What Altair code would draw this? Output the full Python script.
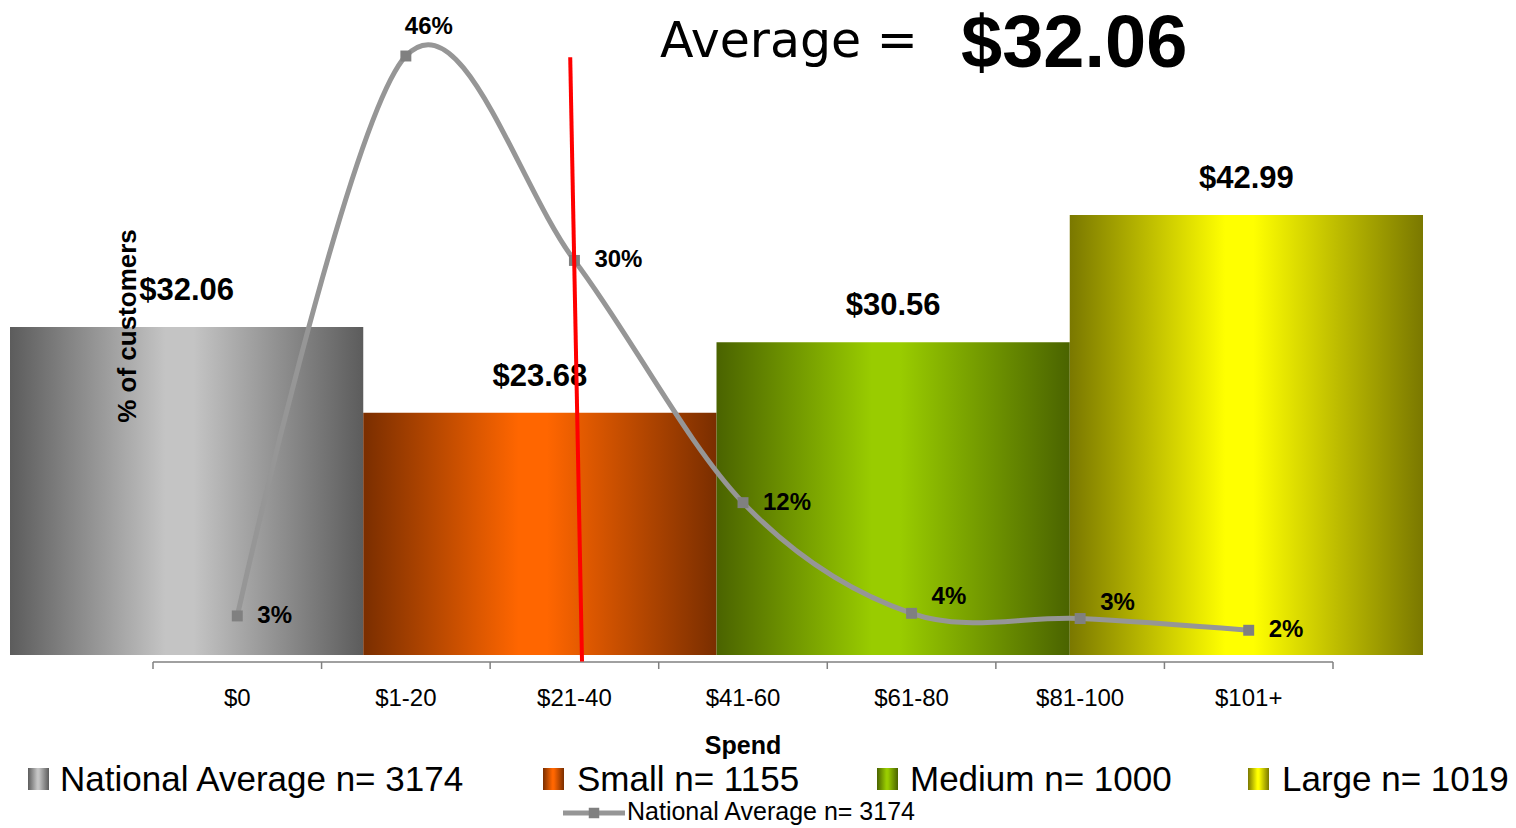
import altair as alt
import pandas as pd

# ---------------- data ----------------
segments = ["National Average n= 3174", "Small n= 1155", "Medium n= 1000", "Large n= 1019"]
avg_spend = [32.06, 23.68, 30.56, 42.99]
spend_cats = ["$0", "$1-20", "$21-40", "$41-60", "$61-80", "$81-100", "$101+"]
pct_customers = [3.0, 46.0, 30.3, 11.7, 3.2, 2.8, 1.9]
pct_labels = ["3%", "46%", "30%", "12%", "4%", "3%", "2%"]
average_value = 32.06
avg_marker_x = [1.975, 2.045]   # red marker, in spend-category units (top, bottom)
avg_marker_y = [45.9, -0.5]     # red marker, in % units (top, bottom)

# ---------------- styles / layout ----------------
gradients = [("#5c5c5c", "#c4c4c4"), ("#7a2e00", "#ff6600"),
             ("#4a6300", "#99cc00"), ("#7a7800", "#ffff00")]
W, H = 1413, 655
FONT = "Liberation Sans"

step = 1180 / len(spend_cats)
cat_x = alt.Scale(domain=[-0.5 - 143 / step, len(spend_cats) - 0.5 + 90 / step], nice=False, zero=False)
pct_y = alt.Scale(domain=[0, 50.3], nice=False, zero=True)
bar_x = alt.Scale(domain=segments, paddingInner=0, paddingOuter=0)
bar_y = alt.Scale(domain=[0, 64], nice=False, zero=True)


def grad(dark, light):
    return alt.Gradient(
        gradient="linear",
        stops=[alt.GradientStop(color=dark, offset=0),
               alt.GradientStop(color=light, offset=0.44),
               alt.GradientStop(color=light, offset=0.52),
               alt.GradientStop(color=dark, offset=1)],
        x1=0, x2=1, y1=0, y2=0)


bar_df = pd.DataFrame({"segment": segments, "spend": avg_spend, "i": list(range(len(segments)))})
line_df = pd.DataFrame({"idx": list(range(len(spend_cats))), "cat": spend_cats,
                        "pct": pct_customers, "label": pct_labels})

layers = []

# bars
for i, (dark, light) in enumerate(gradients):
    layers.append(
        alt.Chart(bar_df).transform_filter(alt.datum.i == i)
        .mark_bar(color=grad(dark, light))
        .encode(x=alt.X("segment:N", scale=bar_x, axis=None),
                y=alt.Y("spend:Q", scale=bar_y, axis=None))
    )

# bar value labels
layers.append(
    alt.Chart(bar_df).transform_calculate(lab="'$' + format(datum.spend, '.2f')")
    .mark_text(font=FONT, fontSize=31, fontWeight="bold", dy=-36, baseline="middle", color="black")
    .encode(x=alt.X("segment:N", scale=bar_x, axis=None),
            y=alt.Y("spend:Q", scale=bar_y, axis=None),
            text="lab:N")
)

# y title
layers.append(
    alt.Chart(pd.DataFrame({"t": ["% of customers"]}))
    .mark_text(font=FONT, fontSize=26, fontWeight="bold", angle=270, align="center", baseline="middle")
    .encode(x=alt.value(118), y=alt.value(326), text="t:N")
)

# axis (spend categories)
n = len(spend_cats)
layers.append(
    alt.Chart(pd.DataFrame({"a": [-0.5], "b": [n - 0.5]}))
    .mark_rule(color="#808080", strokeWidth=1.5)
    .encode(x=alt.X("a:Q", scale=cat_x, axis=None), x2="b:Q", y=alt.value(662))
)
layers.append(
    alt.Chart(pd.DataFrame({"e": [i - 0.5 for i in range(n + 1)]}))
    .mark_rule(color="#808080", strokeWidth=1.5)
    .encode(x=alt.X("e:Q", scale=cat_x, axis=None), y=alt.value(662), y2=alt.value(669))
)
layers.append(
    alt.Chart(line_df)
    .mark_text(font=FONT, fontSize=24, baseline="middle", align="center", color="black")
    .encode(x=alt.X("idx:Q", scale=cat_x, axis=None), y=alt.value(699), text="cat:N")
)
layers.append(
    alt.Chart(pd.DataFrame({"m": [(n - 1) / 2], "t": ["Spend"]}))
    .mark_text(font=FONT, fontSize=25, fontWeight="bold", baseline="middle", align="center")
    .encode(x=alt.X("m:Q", scale=cat_x, axis=None), y=alt.value(746), text="t:N")
)

# line + markers
layers.append(
    alt.Chart(line_df).mark_line(interpolate="cardinal", color="#969696", strokeWidth=5)
    .encode(x=alt.X("idx:Q", scale=cat_x, axis=None), y=alt.Y("pct:Q", scale=pct_y, axis=None))
)
layers.append(
    alt.Chart(line_df).mark_square(size=120, color="#808080", opacity=1)
    .encode(x=alt.X("idx:Q", scale=cat_x, axis=None), y=alt.Y("pct:Q", scale=pct_y, axis=None))
)

# percent labels
label_groups = [([0, 2, 3, 6], dict(dx=20, dy=0, align="left")),
                ([4, 5], dict(dx=20, dy=-16, align="left")),
                ([1], dict(dx=23, dy=-29, align="center"))]
for idxs, opts in label_groups:
    layers.append(
        alt.Chart(line_df).transform_filter(alt.FieldOneOfPredicate(field="idx", oneOf=idxs))
        .mark_text(font=FONT, fontSize=24, fontWeight="bold", baseline="middle", color="black", **opts)
        .encode(x=alt.X("idx:Q", scale=cat_x, axis=None), y=alt.Y("pct:Q", scale=pct_y, axis=None),
                text="label:N")
    )

# red average marker
layers.append(
    alt.Chart(pd.DataFrame({"x": [avg_marker_x[0]], "x2": [avg_marker_x[1]],
                            "y": [avg_marker_y[0]], "y2": [avg_marker_y[1]]}))
    .mark_rule(color="#ff0000", strokeWidth=4)
    .encode(x=alt.X("x:Q", scale=cat_x, axis=None), x2="x2:Q",
            y=alt.Y("y:Q", scale=pct_y, axis=None), y2="y2:Q")
)

# headline
layers.append(
    alt.Chart(pd.DataFrame({"t": ["Average ="]}))
    .mark_text(font="DejaVu Sans", fontSize=49, fontWeight="normal", align="left", baseline="alphabetic")
    .encode(x=alt.value(650), y=alt.value(57), text="t:N")
)
layers.append(
    alt.Chart(pd.DataFrame({"v": [average_value]})).transform_calculate(t="'$' + format(datum.v, '.2f')")
    .mark_text(font=FONT, fontSize=74, fontWeight="bold", align="left", baseline="alphabetic")
    .encode(x=alt.value(951), y=alt.value(67), text="t:N")
)

# legend row 1 (gradient swatches)
sw_x = [18, 533, 867, 1238]
tx_x = [50, 567, 900, 1272]
for i, (dark, light) in enumerate(gradients):
    layers.append(
        alt.Chart(pd.DataFrame({"t": [segments[i]]}))
        .mark_rect(color=grad(dark, light))
        .encode(x=alt.value(sw_x[i]), x2=alt.value(sw_x[i] + 21), y=alt.value(768), y2=alt.value(790))
    )
    layers.append(
        alt.Chart(pd.DataFrame({"t": [segments[i]]}))
        .mark_text(font=FONT, fontSize=35, align="left", baseline="alphabetic", color="black")
        .encode(x=alt.value(tx_x[i]), y=alt.value(791), text="t:N")
    )

# legend row 2 (line)
layers.append(
    alt.Chart(pd.DataFrame({"t": [segments[0]]}))
    .mark_rule(color="#969696", strokeWidth=5)
    .encode(x=alt.value(553), x2=alt.value(615), y=alt.value(813))
)
layers.append(
    alt.Chart(pd.DataFrame({"t": [segments[0]]}))
    .mark_square(size=110, color="#808080", opacity=1)
    .encode(x=alt.value(584), y=alt.value(813))
)
layers.append(
    alt.Chart(pd.DataFrame({"t": [segments[0]]}))
    .mark_text(font=FONT, fontSize=25, align="left", baseline="middle", color="black")
    .encode(x=alt.value(617), y=alt.value(812), text="t:N")
)

chart = (
    alt.layer(*layers)
    .resolve_scale(x="independent", y="independent")
    .properties(width=W, height=H, background="white",
                autosize=alt.AutoSizeParams(type="none"),
                padding={"left": 10, "top": 0, "right": 93, "bottom": 173})
    .configure_view(strokeWidth=0)
)

chart.save("out.html", embed_options={"renderer": "svg", "actions": False})
